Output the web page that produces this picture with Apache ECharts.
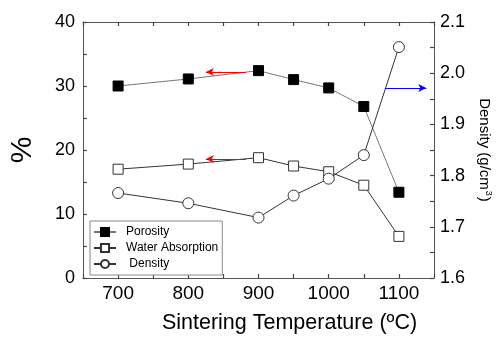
<!DOCTYPE html>
<html><head><meta charset="utf-8">
<script src="https://cdn.jsdelivr.net/npm/echarts@6/dist/echarts.min.js"></script>
<style>html,body{margin:0;padding:0;background:#fff}#c{width:501px;height:339px}</style>
</head><body><div id="c"></div>
<script>
var temps = [700, 800, 900, 950, 1000, 1050, 1100];
var porosity = [30.0, 31.1, 32.4, 31.0, 29.7, 26.8, 13.4];
var waterAbsorption = [17.0, 17.8, 18.8, 17.5, 16.6, 14.5, 6.5];
var density = [1.766, 1.746, 1.718, 1.761, 1.794, 1.840, 2.051];
var porosityArrow = [[882, 32.2], [825, 32.2]];
var waterArrow = [[882, 18.6], [825, 18.6]];
var densityArrow = [[1080, 1.971], [1139, 1.971]];

function pairs(xs, ys){ return xs.map(function(x,i){ return [x, ys[i]]; }); }
var FONT = '"Liberation Sans", Arial, sans-serif';
var AX = '#555';
var chart = echarts.init(document.getElementById('c'), null, {renderer:'canvas'});
function arrowLine(pts, color){
  return {
    silent: true, symbol: ['none','arrow'], symbolSize: [6, 8],
    label: {show:false}, lineStyle: {color: color, width: 1, type: 'solid'},
    data: [[{coord: pts[0]}, {coord: pts[1]}]]
  };
}
function tick(){ return {show: true, inside: true, length: 4, lineStyle: {color: '#444', width: 1.2}}; }
chart.setOption({
  animation: false,
  grid: {left: 81, right: 64, top: 22, bottom: 57},
  legend: {
    orient: 'vertical', left: 90, top: 221,
    padding: [4, 4, 4, 3], itemGap: 2, itemWidth: 22, itemHeight: 10,
    borderColor: '#888', borderWidth: 1, backgroundColor: '#fff',
    textStyle: {fontFamily: FONT, fontSize: 12, color: '#000', padding: [0,0,0,5], lineHeight: 14},
    formatter: function(n){ return n === 'Density' ? ' ' + n : n; },
    data: ['Porosity', 'Water Absorption', 'Density']
  },
  xAxis: [{
    type: 'value', min: 650, max: 1150, interval: 50,
    name: 'Sintering Temperature (ºC)', nameLocation: 'middle', nameGap: 34,
    nameTextStyle: {fontFamily: FONT, fontSize: 21.5, color: '#000', padding: [0,0,0,62]},
    axisLine: {show: true, onZero: false, lineStyle: {color: AX, width: 1}},
    axisTick: tick(),
    axisLabel: {fontFamily: FONT, fontSize: 19, color: '#000', margin: 6,
      formatter: function(v){ return v % 100 === 0 ? String(v) : ''; }},
    splitLine: {show: false}
  }, {
    type: 'value', position: 'top', min: 650, max: 1150, interval: 50,
    axisLine: {show: true, onZero: false, lineStyle: {color: AX, width: 1}},
    axisTick: tick(),
    axisLabel: {show: false}, splitLine: {show: false}
  }],
  yAxis: [{
    type: 'value', min: 0, max: 40, interval: 5,
    name: '%', nameLocation: 'middle', nameRotate: 90, nameGap: 45,
    nameTextStyle: {fontFamily: FONT, fontSize: 30, color: '#000'},
    axisLine: {show: true, onZero: false, lineStyle: {color: AX, width: 1}},
    axisTick: tick(),
    axisLabel: {fontFamily: FONT, fontSize: 18, color: '#000', margin: 8,
      formatter: function(v){ return v % 10 === 0 ? String(v) : ''; }},
    splitLine: {show: false}
  }, {
    type: 'value', position: 'right', min: 1.6, max: 2.1, interval: 0.05,
    name: '{a|Density (g/cm}{s|3}{a|)}', nameLocation: 'middle', nameRotate: -90, nameGap: 41,
    nameTextStyle: {fontFamily: FONT, fontSize: 15, color: '#000',
      rich: {a: {fontFamily: FONT, fontSize: 15, color: '#000'},
             s: {fontFamily: FONT, fontSize: 9, color: '#000', padding: [0,1,9,1]}}},
    axisLine: {show: true, onZero: false, lineStyle: {color: AX, width: 1}},
    axisTick: tick(),
    axisLabel: {fontFamily: FONT, fontSize: 18, color: '#000', margin: 6,
      formatter: function(v){ var k = Math.round(v * 100); return k % 10 === 0 ? (k/100).toFixed(1) : ''; }},
    splitLine: {show: false}
  }],
  series: [{
    name: 'Porosity', type: 'line', xAxisIndex: 0, yAxisIndex: 0,
    data: pairs(temps, porosity), symbol: 'rect', symbolSize: 10,
    itemStyle: {color: '#000', borderColor: '#000', borderWidth: 1},
    lineStyle: {color: '#777', width: 1}, z: 3,
    markLine: arrowLine(porosityArrow, '#ff0000')
  }, {
    name: 'Water Absorption', type: 'line', xAxisIndex: 0, yAxisIndex: 0,
    data: pairs(temps, waterAbsorption), symbol: 'rect', symbolSize: 10,
    itemStyle: {color: '#fff', borderColor: '#333', borderWidth: 1},
    lineStyle: {color: '#333', width: 1}, z: 4,
    markLine: arrowLine(waterArrow, '#ff0000')
  }, {
    name: 'Density', type: 'line', xAxisIndex: 0, yAxisIndex: 1,
    data: pairs(temps, density), symbol: 'circle', symbolSize: 11,
    itemStyle: {color: '#fff', borderColor: '#333', borderWidth: 1},
    lineStyle: {color: '#333', width: 1}, z: 5,
    markLine: arrowLine(densityArrow, '#0000ff')
  }]
});
</script></body></html>
